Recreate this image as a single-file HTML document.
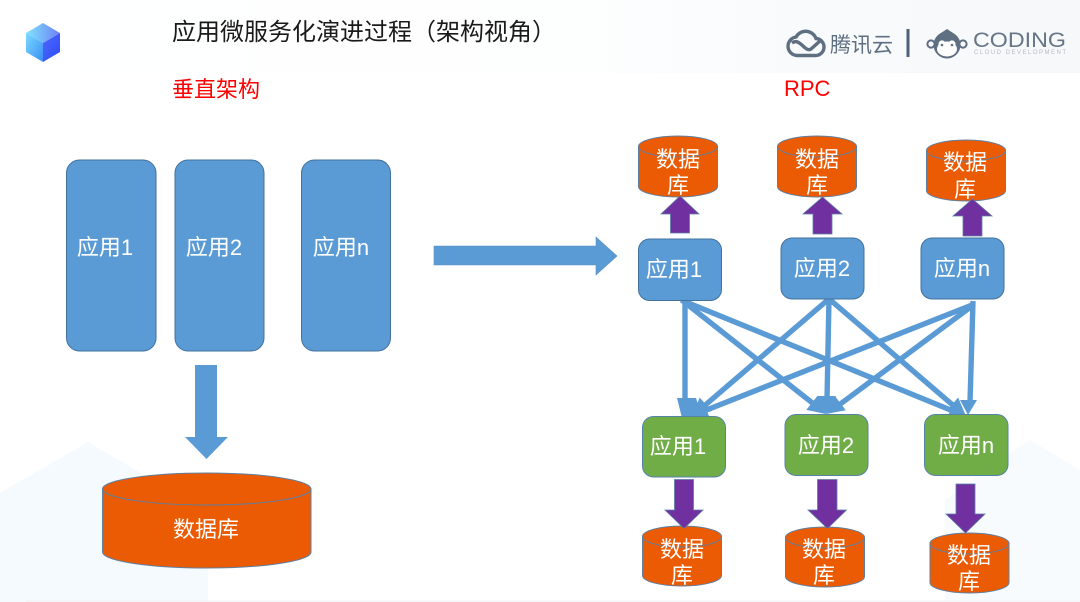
<!DOCTYPE html>
<html lang="zh">
<head>
<meta charset="utf-8">
<title>应用微服务化演进过程</title>
<style>
html,body{margin:0;padding:0;background:#fff;width:1080px;height:602px;overflow:hidden}
svg{display:block}
text{font-family:"Liberation Sans","Noto Sans CJK SC",sans-serif}
.w{fill:#fff;font-size:22px;text-anchor:middle}
.box{fill:#5b9bd5;stroke:#41719c;stroke-width:1}
.gbox{fill:#70ad47;stroke:#5583a8;stroke-width:1}
.cyl{fill:#eb5b04;stroke:#5f7f9f;stroke-width:1}
.pur{fill:#7030a0;stroke:#5b7fa5;stroke-width:.8}
.ln{stroke:#5b9bd5;stroke-width:5.4;fill:none}
.hd{fill:#5b9bd5}
</style>
</head>
<body>
<svg width="1080" height="602" viewBox="0 0 1080 602" xmlns="http://www.w3.org/2000/svg">
<defs>
<linearGradient id="band" x1="0" x2="1" y1="0" y2="0">
<stop offset="0" stop-color="#fff"/><stop offset=".55" stop-color="#fdfefe"/><stop offset=".75" stop-color="#f8fafc"/><stop offset="1" stop-color="#f6f8fa"/>
</linearGradient>
<linearGradient id="c0" x1="0" x2="1" y1="0" y2="0"><stop offset="0" stop-color="#80e4ff"/><stop offset="1" stop-color="#6d80f2"/></linearGradient>
<linearGradient id="c1" x1="0" x2="1" y1="0" y2="1"><stop offset="0" stop-color="#7adcff"/><stop offset="1" stop-color="#3a8cf5"/></linearGradient>
<linearGradient id="c2" x1="0" x2="1" y1="0" y2="1"><stop offset="0" stop-color="#5068f5"/><stop offset="1" stop-color="#2a4cff"/></linearGradient>
</defs>

<!-- background -->
<rect width="1080" height="73" fill="url(#band)"/>
<polygon points="0,493 88,442 208,512 208,602 0,602" fill="#f5fafe"/>
<polygon points="985,470 1030,440 1080,470 1080,602 945,602 945,500" fill="#f7fbfe"/>

<!-- cube -->
<polygon points="43,23 60,33 43,43 26,33" fill="url(#c0)"/>
<polygon points="26,33 43,43 43,62 26,52" fill="url(#c1)"/>
<polygon points="60,33 60,52 43,62 43,43" fill="url(#c2)"/>

<!-- titles -->
<text x="172" y="40" font-size="24" fill="#1a1a1a">应用微服务化演进过程（架构视角）</text>
<text x="172" y="97" font-size="22" fill="#ff0000">垂直架构</text>
<text x="784" y="96" font-size="22" fill="#ff0000">RPC</text>

<!-- tencent cloud logo -->
<g fill="none" stroke="#5f6f82" stroke-width="3.4">
<path d="M797 55.500 H815 A8.500 8.500 0 0 0 816 38.500 A11 11 0 0 0 796 37 A9.300 9.300 0 0 0 797 55.500 Z"/>
<path d="M792 43 C800 37 805 53 811 49 L820 41"/>
</g>
<text x="830" y="52" font-size="21" fill="#5f6f82">腾讯云</text>
<rect x="906.500" y="29" width="3" height="28" fill="#4f6078"/>

<!-- coding logo -->
<circle cx="931" cy="44" r="3.600" fill="none" stroke="#5f6f82" stroke-width="2"/>
<circle cx="963" cy="44" r="3.600" fill="none" stroke="#5f6f82" stroke-width="2"/>
<circle cx="947" cy="45" r="13.500" fill="#5f6f82"/>
<path d="M941 33 L947 29 L953 33 Z" fill="#5f6f82"/>
<ellipse cx="947" cy="49" rx="10" ry="7.500" fill="#fff"/>
<circle cx="942" cy="44" r="3.600" fill="#fff"/><circle cx="952" cy="44" r="3.600" fill="#fff"/>
<circle cx="942" cy="45" r="1.300" fill="#5f6f82"/><circle cx="952" cy="45" r="1.300" fill="#5f6f82"/>
<text x="973" y="47" font-size="21" fill="#667688" textLength="93" lengthAdjust="spacingAndGlyphs">CODING</text>
<text x="974" y="54" font-size="6" fill="#b4bcc6" textLength="92">CLOUD DEVELOPMENT</text>

<!-- left apps -->
<rect class="box" x="66.500" y="160" width="89.500" height="191" rx="13"/>
<rect class="box" x="175" y="160" width="89" height="191" rx="13"/>
<rect class="box" x="301.500" y="160" width="89" height="191" rx="13"/>
<text class="w" x="105" y="255">应用1</text>
<text class="w" x="214" y="255">应用2</text>
<text class="w" x="341" y="255">应用n</text>

<!-- big arrow right -->
<polygon points="434,246 596,246 596,237 617,256 596,275 596,265 434,265" fill="#5b9bd5" stroke="#5b8fc0" stroke-width=".6"/>
<!-- big arrow down -->
<polygon points="195,365 217,365 217,437 228,437 206.500,459 185,437 195,437" fill="#5b9bd5"/>

<!-- big db -->
<path class="cyl" d="M102.500 489 V552 A104 16 0 0 0 311 552 V489 Z"/>
<ellipse class="cyl" cx="206.750" cy="489" rx="104.250" ry="16"/>
<text class="w" x="206" y="537">数据库</text>

<!-- connectors -->
<g class="ln">
<line x1="685" y1="301" x2="685" y2="402"/>
<line x1="683" y1="301" x2="815" y2="405"/>
<line x1="681" y1="300" x2="953" y2="411"/>
<line x1="830" y1="298" x2="703" y2="407"/>
<line x1="829" y1="298" x2="827" y2="400"/>
<line x1="828" y1="298" x2="955" y2="407"/>
<line x1="972" y1="305" x2="704" y2="411"/>
<line x1="972" y1="306" x2="839" y2="405"/>
<line x1="973" y1="301" x2="970" y2="402"/>
</g>
<g class="hd">
<polygon points="677,398 696,398 702,417 682,418"/>
<polygon points="826,414 806.300,409.900 817.500,395.700"/>
<polygon points="967,417 946.900,418.500 953.700,401.900"/>
<polygon points="692,416 711.500,411.100 699.700,397.500"/>
<polygon points="690,417 710,418.700 703.400,401.900"/>
<polygon points="826,414 817,396 836,396"/>
<polygon points="966,416 946.500,411.100 958.100,397.500"/>
<polygon points="826,414 845.800,410.300 834.800,395.900"/>
<polygon points="968,415 960,400 977,400"/>
</g>

<!-- top dbs -->
<path class="cyl" d="M638.500 146.500 V186.500 A39.500 10.500 0 0 0 717.500 186.500 V146.500 Z"/>
<ellipse class="cyl" cx="678" cy="146.500" rx="39.500" ry="10.500"/>
<path class="cyl" d="M777.500 146.500 V186.500 A39.500 10.500 0 0 0 856.500 186.500 V146.500 Z"/>
<ellipse class="cyl" cx="817" cy="146.500" rx="39.500" ry="10.500"/>
<path class="cyl" d="M926.500 150.500 V190.500 A39.500 10.500 0 0 0 1005.500 190.500 V150.500 Z"/>
<ellipse class="cyl" cx="966" cy="150.500" rx="39.500" ry="10.500"/>
<text class="w" x="678" y="167">数据</text><text class="w" x="678" y="193">库</text>
<text class="w" x="817" y="167">数据</text><text class="w" x="817" y="193">库</text>
<text class="w" x="965" y="170">数据</text><text class="w" x="965" y="197">库</text>

<!-- purple up -->
<polygon class="pur" points="670.500,233 689.500,233 689.500,214 699,214 680,196 661,214 670.500,214"/>
<polygon class="pur" points="813,234 832,234 832,214 842,214 822.500,197 803,214 813,214"/>
<polygon class="pur" points="963,236 982,236 982,216 992,216 972.500,199 953,216 963,216"/>

<!-- blue apps -->
<rect class="box" x="638.500" y="239" width="83" height="61.500" rx="11"/>
<rect class="box" x="781" y="238" width="83" height="61" rx="11"/>
<rect class="box" x="921" y="238" width="83" height="61" rx="11"/>
<text class="w" x="674" y="277">应用1</text>
<text class="w" x="822" y="276">应用2</text>
<text class="w" x="962" y="276">应用n</text>

<!-- green apps -->
<rect class="gbox" x="642.500" y="416.500" width="83" height="60.500" rx="11"/>
<rect class="gbox" x="785" y="414.500" width="83" height="61" rx="11"/>
<rect class="gbox" x="924.500" y="414.500" width="83.500" height="61" rx="11"/>
<text class="w" x="678" y="454">应用1</text>
<text class="w" x="826" y="453">应用2</text>
<text class="w" x="966" y="453">应用n</text>

<!-- bottom dbs -->
<path class="cyl" d="M642.500 536.500 V575.500 A39.500 10.500 0 0 0 721.500 575.500 V536.500 Z"/>
<ellipse class="cyl" cx="682" cy="536.500" rx="39.500" ry="10.500"/>
<path class="cyl" d="M785.500 537.500 V576.500 A39.500 10.500 0 0 0 864.500 576.500 V537.500 Z"/>
<ellipse class="cyl" cx="825" cy="537.500" rx="39.500" ry="10.500"/>
<path class="cyl" d="M930 543.500 V582.500 A39.500 10.500 0 0 0 1009 582.500 V543.500 Z"/>
<ellipse class="cyl" cx="969.500" cy="543.500" rx="39.500" ry="10.500"/>
<text class="w" x="682" y="557">数据</text><text class="w" x="682" y="583">库</text>
<text class="w" x="824" y="557">数据</text><text class="w" x="824" y="583">库</text>
<text class="w" x="969" y="563">数据</text><text class="w" x="969" y="589">库</text>

<!-- purple down -->
<polygon class="pur" points="674.500,479.500 693.500,479.500 693.500,510 703,510 684,528.500 665,510 674.500,510"/>
<polygon class="pur" points="817.500,479.500 837,479.500 837,510 846.500,510 827.500,528.500 808,510 817.500,510"/>
<polygon class="pur" points="956,484 975,484 975,514 985,514 965.500,533 946,514 956,514"/>

<rect x="26" y="600.500" width="1054" height="1.500" fill="#f2f4f6"/>
</svg>
</body>
</html>
